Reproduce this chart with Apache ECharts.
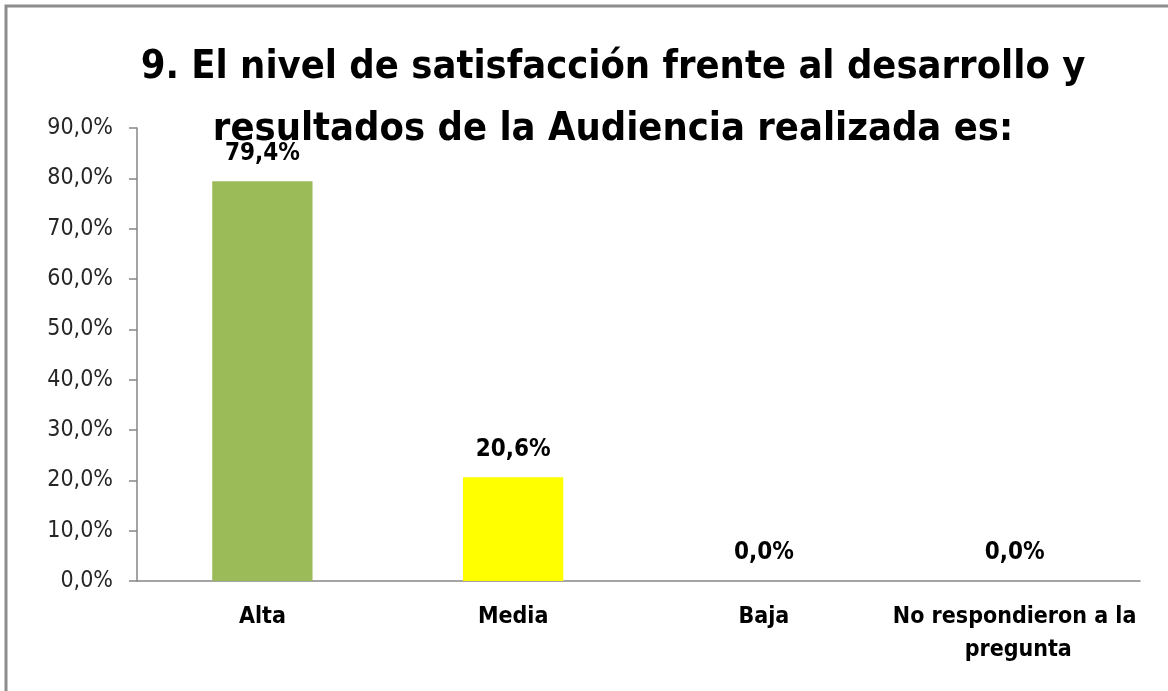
<!DOCTYPE html>
<html>
<head>
<meta charset="utf-8">
<script src="https://cdn.jsdelivr.net/npm/echarts@6/dist/echarts.min.js"></script>
<style>
  html, body { margin: 0; padding: 0; background: #fff; }
  #chart { width: 1168px; height: 691px; }
</style>
</head>
<body>
<div id="chart"></div>
<script>
const categories = ['Alta', 'Media', 'Baja', 'No respondieron a la pregunta']
const values = [79.4, 20.6, 0.0, 0.0]
const barColors = ['#9BBB59', '#FFFF00', '#4F81BD', '#4F81BD']
const titleText = '9. El nivel de satisfacción frente al desarrollo y\nresultados de la Audiencia realizada es:'

const font = '"Liberation Sans Narrow", "DejaVu Sans Condensed", sans-serif'
const pct = v => v.toFixed(1).replace('.', ',') + '%'

const chart = echarts.init(document.getElementById('chart'))
chart.setOption({
  animation: false,
  title: {
    text: titleText,
    left: 608,
    textAlign: 'center',
    top: 32,
    textStyle: {
      fontFamily: font,
      fontSize: 39.5,
      fontWeight: 'bold',
      color: '#000',
      lineHeight: 62
    }
  },
  grid: {
    left: 137,
    right: 28,
    top: 128,
    bottom: 110
  },
  xAxis: {
    type: 'category',
    data: categories,
    axisLine: { lineStyle: { color: '#868686', width: 1.5 } },
    axisTick: { length: 10, lineStyle: { color: '#868686', width: 1.5 } },
    axisLabel: {
      fontFamily: font,
      fontSize: 23,
      fontWeight: 'bold',
      color: '#000',
      margin: 20,
      lineHeight: 33,
      width: 250,
      overflow: 'break',
      interval: 0
    }
  },
  yAxis: {
    type: 'value',
    min: 0,
    max: 90,
    interval: 10,
    splitLine: { show: false },
    axisLine: { show: true, lineStyle: { color: '#868686', width: 1.5 } },
    axisTick: { show: true, length: 8, lineStyle: { color: '#868686', width: 1.5 } },
    axisLabel: {
      fontFamily: font,
      fontSize: 23,
      color: '#262626',
      margin: 24,
      formatter: v => pct(v)
    }
  },
  series: [{
    type: 'bar',
    barWidth: '40%',
    data: values.map((v, i) => ({ value: v, itemStyle: { color: barColors[i] } })),
    label: {
      show: true,
      position: 'top',
      distance: 16,
      fontFamily: font,
      fontSize: 24,
      fontWeight: 'bold',
      color: '#000',
      formatter: p => pct(p.value)
    }
  }],
  graphic: [{
    type: 'rect',
    shape: { x: 6, y: 6, width: 1200, height: 720 },
    style: { fill: 'none', stroke: '#8c8c8c', lineWidth: 3 },
    silent: true
  }]
})
</script>
</body>
</html>
